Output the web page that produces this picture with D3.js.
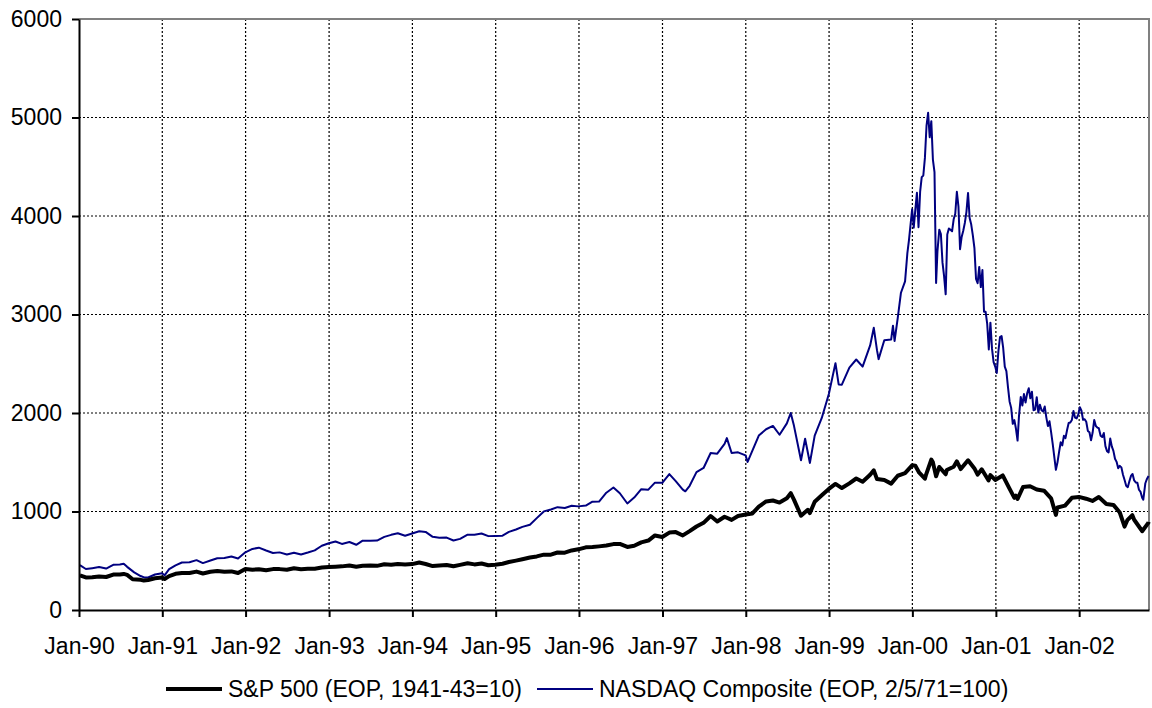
<!DOCTYPE html>
<html>
<head>
<meta charset="utf-8">
<script src="https://cdn.jsdelivr.net/npm/d3@7"></script>
<style>
body { margin: 0; background: #fff; }
text { font-family: "Liberation Sans", Arial, sans-serif; }
</style>
</head>
<body>
<svg id="chart" width="1152" height="708"></svg>
<script>
// values (weekly/monthly closes)
const yTicks = [0, 1000, 2000, 3000, 4000, 5000, 6000];

const sp500 = [
  ["1990-01-05",352],["1990-01-31",330],["1990-02-28",333],["1990-03-30",340],["1990-04-30",335],["1990-05-31",360],
  ["1990-06-29",360],["1990-07-16",366],["1990-07-31",356],["1990-08-24",312],["1990-09-28",306],["1990-10-12",300],
  ["1990-10-31",304],["1990-11-30",322],["1990-12-31",330],["1991-01-11",315],["1991-01-31",344],["1991-02-28",367],
  ["1991-03-28",375],["1991-04-30",375],["1991-05-31",390],["1991-06-28",371],["1991-07-31",388],["1991-08-30",395],
  ["1991-09-30",388],["1991-10-31",392],["1991-11-29",375],["1991-12-31",417],["1992-01-31",409],["1992-02-28",413],
  ["1992-03-31",404],["1992-04-30",415],["1992-05-29",415],["1992-06-30",408],["1992-07-31",424],["1992-08-31",414],
  ["1992-09-30",418],["1992-10-30",419],["1992-11-30",431],["1992-12-31",436],["1993-01-29",439],["1993-02-26",443],
  ["1993-03-31",452],["1993-04-30",440],["1993-05-28",450],["1993-06-30",451],["1993-07-30",448],["1993-08-31",464],
  ["1993-09-30",459],["1993-10-29",468],["1993-11-30",462],["1993-12-31",466],["1994-01-31",482],["1994-02-28",467],
  ["1994-03-31",446],["1994-04-29",451],["1994-05-31",457],["1994-06-30",444],["1994-07-29",458],["1994-08-31",475],
  ["1994-09-30",463],["1994-10-31",472],["1994-11-30",454],["1994-12-30",459],["1995-01-31",470],["1995-02-28",487],
  ["1995-03-31",501],["1995-04-28",515],["1995-05-31",533],["1995-06-30",544],["1995-07-31",562],["1995-08-31",562],
  ["1995-09-29",584],["1995-10-31",582],["1995-11-30",605],["1995-12-29",616],["1996-01-31",636],["1996-02-29",640],
  ["1996-03-29",646],["1996-04-30",654],["1996-05-31",669],["1996-06-28",671],["1996-07-31",640],["1996-08-30",652],
  ["1996-09-30",687],["1996-10-31",705],["1996-11-29",757],["1996-12-31",741],["1997-01-31",786],["1997-02-28",791],
  ["1997-03-31",757],["1997-04-30",801],["1997-05-30",848],["1997-06-30",885],["1997-07-31",954],["1997-08-29",899],
  ["1997-09-30",947],["1997-10-31",915],["1997-11-28",955],["1997-12-31",970],["1998-01-30",980],["1998-02-27",1049],
  ["1998-03-31",1102],["1998-04-30",1112],["1998-05-29",1091],["1998-06-30",1134],["1998-07-17",1186],["1998-07-31",1121],
  ["1998-08-31",957],["1998-09-30",1017],["1998-10-09",984],["1998-10-30",1099],["1998-11-30",1164],["1998-12-31",1229],
  ["1999-01-29",1280],["1999-02-26",1238],["1999-03-31",1286],["1999-04-30",1335],["1999-05-28",1302],["1999-06-30",1373],
  ["1999-07-16",1418],["1999-07-30",1329],["1999-08-31",1320],["1999-09-30",1283],["1999-10-29",1363],["1999-11-30",1389],
  ["1999-12-31",1469],["2000-01-14",1465],["2000-01-31",1394],["2000-02-25",1333],["2000-02-29",1366],["2000-03-24",1527],
  ["2000-03-31",1499],["2000-04-14",1357],["2000-04-28",1452],["2000-05-26",1378],["2000-05-31",1421],["2000-06-30",1455],
  ["2000-07-14",1509],["2000-07-31",1431],["2000-08-31",1518],["2000-09-01",1520],["2000-09-29",1437],["2000-10-13",1374],
  ["2000-10-31",1429],["2000-11-30",1315],["2000-12-08",1370],["2000-12-29",1320],["2001-01-31",1366],["2001-02-28",1240],
  ["2001-03-23",1139],["2001-03-30",1160],["2001-04-06",1128],["2001-04-30",1249],["2001-05-31",1256],["2001-06-29",1224],
  ["2001-07-31",1211],["2001-08-31",1134],["2001-09-21",966],["2001-09-28",1041],["2001-10-31",1060],["2001-11-30",1139],
  ["2001-12-31",1148],["2002-01-31",1130],["2002-02-28",1107],["2002-03-28",1147],["2002-04-30",1077],["2002-05-31",1067],
  ["2002-06-28",990],["2002-07-19",847],["2002-07-31",912],["2002-08-22",962],["2002-08-30",916],["2002-09-30",815],
  ["2002-10-04",800],["2002-10-31",885],["2002-11-01",895]
];

const nasdaq = [
  ["1990-01-05",455],["1990-01-31",416],["1990-02-28",425],["1990-03-30",436],["1990-04-30",421],["1990-05-31",459],
  ["1990-06-29",462],["1990-07-16",470],["1990-07-31",438],["1990-08-31",382],["1990-09-28",345],["1990-10-16",329],
  ["1990-10-31",330],["1990-11-30",360],["1990-12-31",374],["1991-01-11",352],["1991-01-31",414],["1991-02-28",453],
  ["1991-03-28",482],["1991-04-30",484],["1991-05-31",506],["1991-06-28",476],["1991-07-31",502],["1991-08-30",526],
  ["1991-09-30",527],["1991-10-31",543],["1991-11-29",523],["1991-12-31",586],["1992-01-31",620],["1992-02-28",633],
  ["1992-03-31",604],["1992-04-30",579],["1992-05-29",585],["1992-06-30",563],["1992-07-31",581],["1992-08-31",563],
  ["1992-09-30",583],["1992-10-30",605],["1992-11-30",652],["1992-12-31",677],["1993-01-29",696],["1993-02-26",671],
  ["1993-03-31",690],["1993-04-30",662],["1993-05-28",704],["1993-06-30",704],["1993-07-30",705],["1993-08-31",742],
  ["1993-09-30",763],["1993-10-29",779],["1993-11-30",754],["1993-12-31",777],["1994-01-31",800],["1994-02-28",793],
  ["1994-03-31",743],["1994-04-29",733],["1994-05-31",735],["1994-06-30",706],["1994-07-29",722],["1994-08-31",765],
  ["1994-09-30",764],["1994-10-31",777],["1994-11-30",750],["1994-12-30",752],["1995-01-31",755],["1995-02-28",793],
  ["1995-03-31",817],["1995-04-28",844],["1995-05-31",865],["1995-06-30",933],["1995-07-31",1001],["1995-08-31",1020],
  ["1995-09-29",1044],["1995-10-31",1036],["1995-11-30",1059],["1995-12-29",1052],["1996-01-31",1060],["1996-02-29",1100],
  ["1996-03-29",1101],["1996-04-30",1191],["1996-05-31",1243],["1996-06-28",1185],["1996-07-31",1081],["1996-08-30",1141],
  ["1996-09-30",1227],["1996-10-31",1222],["1996-11-29",1293],["1996-12-31",1291],["1997-01-31",1380],["1997-02-28",1309],
  ["1997-03-31",1222],["1997-04-11",1205],["1997-04-30",1261],["1997-05-30",1400],["1997-06-30",1442],["1997-07-31",1594],
  ["1997-08-29",1587],["1997-09-30",1686],["1997-10-10",1745],["1997-10-31",1594],["1997-11-28",1601],["1997-12-31",1570],
  ["1998-01-09",1503],["1998-01-30",1619],["1998-02-27",1771],["1998-03-31",1835],["1998-04-30",1869],["1998-05-29",1779],
  ["1998-06-30",1895],["1998-07-17",2000],["1998-07-31",1872],["1998-08-31",1520],["1998-09-18",1738],["1998-10-09",1493],
  ["1998-10-30",1771],["1998-11-30",1950],["1998-12-31",2193],["1999-01-29",2506],["1999-02-12",2290],["1999-02-26",2288],
  ["1999-03-31",2461],["1999-04-30",2543],["1999-05-28",2471],["1999-06-30",2686],["1999-07-16",2865],["1999-07-30",2638],
  ["1999-08-06",2547],["1999-08-31",2739],["1999-09-30",2746],["1999-10-08",2886],["1999-10-15",2731],["1999-10-29",2966],
  ["1999-11-12",3221],["1999-11-30",3336],["1999-12-10",3620],["1999-12-17",3753],["1999-12-31",4069],
  ["2000-01-07",3882],["2000-01-14",4064],["2000-01-21",4235],["2000-01-28",3887],["2000-02-04",4244],["2000-02-11",4395],
  ["2000-02-18",4411],["2000-02-25",4590],["2000-03-03",4914],["2000-03-10",5048],["2000-03-17",4799],["2000-03-24",4963],
  ["2000-03-31",4573],["2000-04-07",4446],["2000-04-14",3321],["2000-04-20",3643],["2000-04-28",3861],["2000-05-05",3817],
  ["2000-05-12",3529],["2000-05-19",3390],["2000-05-26",3205],["2000-06-02",3813],["2000-06-09",3874],["2000-06-16",3860],
  ["2000-06-23",3845],["2000-06-30",3966],["2000-07-07",4023],["2000-07-14",4246],["2000-07-21",4095],["2000-07-28",3663],
  ["2000-08-04",3787],["2000-08-11",3850],["2000-08-18",3930],["2000-08-25",4042],["2000-09-01",4234],["2000-09-08",3979],
  ["2000-09-15",3913],["2000-09-22",3803],["2000-09-29",3673],["2000-10-06",3361],["2000-10-13",3317],["2000-10-20",3483],
  ["2000-10-27",3278],["2000-11-03",3451],["2000-11-10",3028],["2000-11-17",3027],["2000-11-24",2904],["2000-12-01",2645],
  ["2000-12-08",2917],["2000-12-15",2653],["2000-12-22",2517],["2000-12-29",2471],
  ["2001-01-05",2407],["2001-01-12",2626],["2001-01-19",2770],["2001-01-26",2781],["2001-02-02",2660],["2001-02-09",2470],
  ["2001-02-16",2425],["2001-02-23",2262],["2001-03-02",2117],["2001-03-09",2052],["2001-03-16",1890],["2001-03-23",1928],
  ["2001-03-30",1840],["2001-04-06",1720],["2001-04-12",1961],["2001-04-20",2163],["2001-04-27",2075],["2001-05-04",2192],
  ["2001-05-11",2107],["2001-05-18",2199],["2001-05-25",2251],["2001-06-01",2150],["2001-06-08",2215],["2001-06-15",2028],
  ["2001-06-22",2034],["2001-06-29",2161],["2001-07-06",2004],["2001-07-13",2084],["2001-07-20",2029],["2001-07-27",2015],
  ["2001-08-03",2066],["2001-08-10",1956],["2001-08-17",1867],["2001-08-24",1916],["2001-08-31",1805],["2001-09-07",1687],
  ["2001-09-21",1423],["2001-09-28",1499],["2001-10-05",1605],["2001-10-12",1703],["2001-10-19",1671],["2001-10-26",1768],
  ["2001-11-02",1745],["2001-11-09",1828],["2001-11-16",1898],["2001-11-23",1903],["2001-11-30",1930],["2001-12-07",2021],
  ["2001-12-14",1953],["2001-12-21",1945],["2001-12-28",1987],
  ["2002-01-04",2059],["2002-01-11",2023],["2002-01-18",1931],["2002-01-25",1937],["2002-02-01",1911],["2002-02-08",1818],
  ["2002-02-15",1805],["2002-02-22",1724],["2002-03-01",1802],["2002-03-08",1929],["2002-03-15",1868],["2002-03-22",1851],
  ["2002-03-28",1845],["2002-04-05",1770],["2002-04-12",1756],["2002-04-19",1797],["2002-04-26",1664],["2002-05-03",1613],
  ["2002-05-10",1600],["2002-05-17",1741],["2002-05-24",1661],["2002-05-31",1616],["2002-06-07",1535],["2002-06-14",1504],
  ["2002-06-21",1440],["2002-06-28",1463],["2002-07-05",1448],["2002-07-12",1373],["2002-07-19",1319],["2002-07-26",1262],
  ["2002-08-02",1247],["2002-08-09",1306],["2002-08-16",1361],["2002-08-23",1381],["2002-08-30",1315],["2002-09-06",1295],
  ["2002-09-13",1291],["2002-09-20",1221],["2002-09-27",1199],["2002-10-04",1139],["2002-10-09",1120],["2002-10-18",1287],
  ["2002-10-25",1331],["2002-11-01",1360]
];

const seriesNames = ["S&P 500 (EOP, 1941-43=10)", "NASDAQ Composite (EOP, 2/5/71=100)"];

const parse = d3.timeParse("%Y-%m-%d");
const svg = d3.select("#chart");
const plotL = 79, plotR = 1149, plotT = 19, plotB = 610;
const fontSize = "23px";

const x = d3.scaleTime()
    .domain([parse("1990-01-01"), parse("2002-11-03")])
    .range([plotL, plotR]);
const y = d3.scaleLinear()
    .domain([0, 6000])
    .range([plotB, plotT]);

const years = d3.timeYear.range(parse("1990-01-01"), parse("2002-12-31"));

svg.append("rect").attr("width", 1152).attr("height", 708).attr("fill", "#fff");

// grid
svg.append("g").selectAll("line").data(yTicks.filter(d => d > 0 && d < 6000))
    .join("line")
    .attr("x1", plotL).attr("x2", plotR)
    .attr("y1", d => y(d)).attr("y2", d => y(d))
    .attr("stroke", "#000").attr("stroke-width", 1).attr("stroke-dasharray", "2,2");
svg.append("g").selectAll("line").data(years.slice(1))
    .join("line")
    .attr("x1", d => x(d)).attr("x2", d => x(d))
    .attr("y1", plotT).attr("y2", plotB)
    .attr("stroke", "#000").attr("stroke-width", 1.2).attr("stroke-dasharray", "2,2");

// gray frame top/right
svg.append("path")
    .attr("d", `M${plotL},${plotT}H${plotR}V${plotB}`)
    .attr("fill", "none").attr("stroke", "#808080").attr("stroke-width", 2);

const line = d3.line()
    .x(d => x(parse(d[0])))
    .y(d => y(d[1]));

svg.append("path").datum(nasdaq)
    .attr("d", line)
    .attr("fill", "none").attr("stroke", "#000080").attr("stroke-width", 2)
    .attr("stroke-linejoin", "round");
svg.append("path").datum(sp500)
    .attr("d", line)
    .attr("fill", "none").attr("stroke", "#000").attr("stroke-width", 4)
    .attr("stroke-linejoin", "round");

// axes
const yAxis = svg.append("g")
    .attr("transform", `translate(${plotL},0)`)
    .call(d3.axisLeft(y).tickValues(yTicks).tickFormat(d3.format("d"))
        .tickSize(7).tickSizeOuter(0).tickPadding(10));
const xAxis = svg.append("g")
    .attr("transform", `translate(0,${plotB})`)
    .call(d3.axisBottom(x).tickValues(years).tickFormat(d3.timeFormat("%b-%y"))
        .tickSize(7).tickSizeOuter(0).tickPadding(21));

[yAxis, xAxis].forEach(g => {
  g.select(".domain").attr("stroke", "#000").attr("stroke-width", 2);
  g.selectAll(".tick line").attr("stroke", "#000").attr("stroke-width", 2);
  g.selectAll(".tick text").attr("fill", "#000").style("font-size", fontSize)
      .style("font-family", "'Liberation Sans', Arial, sans-serif");
});

// legend
const legend = svg.append("g");
const legendItems = [
  { name: seriesNames[0], color: "#000", width: 4, x0: 166 },
  { name: seriesNames[1], color: "#000080", width: 2, x0: 537 }
];
legendItems.forEach(item => {
  legend.append("line")
      .attr("x1", item.x0).attr("x2", item.x0 + 56)
      .attr("y1", 689).attr("y2", 689)
      .attr("stroke", item.color).attr("stroke-width", item.width);
  legend.append("text")
      .attr("x", item.x0 + 62).attr("y", 689).attr("dy", "0.35em")
      .style("font-size", fontSize).attr("fill", "#000")
      .text(item.name);
});
</script>
</body>
</html>
